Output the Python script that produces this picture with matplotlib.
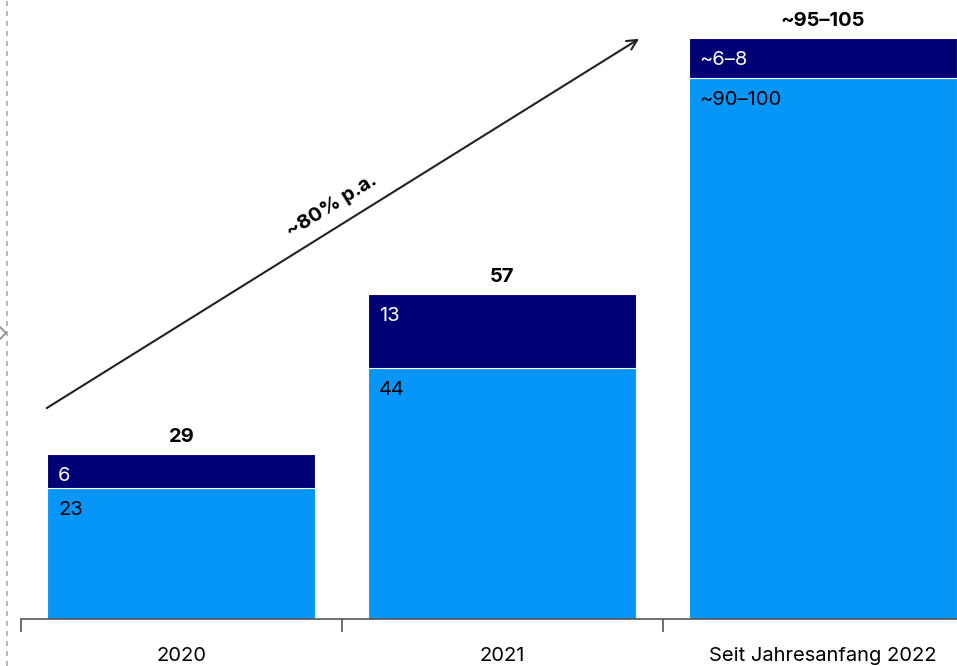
import numpy as np
from matplotlib import pyplot as plt
from matplotlib.lines import Line2D

plt.rcParams['font.family'] = ['Inter', 'DejaVu Sans']

# data
categories = ['2020', '2021', 'Seit Jahresanfang 2022']
base_vals = [23, 44, 95]
top_vals = [6, 13, 7]
base_labels = ['23', '44', '~90–100']
top_labels = ['6', '13', '~6–8']
total_labels = ['29', '57', '~95–105']
growth_label = '~80% p.a.'

dark = '#000075'
light = '#0596f7'
fs = 14.5

fig = plt.figure(figsize=(9.57, 6.66), dpi=100)
ax = fig.add_axes([21/957, 47/666, 936/957, 619/666])

x = np.arange(len(categories))
w = 0.835
base = np.array(base_vals)
top = np.array(top_vals)
ax.bar(x, base, w, color=light, edgecolor='white', linewidth=0.8)
ax.bar(x, top, w, bottom=base, color=dark, edgecolor='white', linewidth=0.8)

for i in range(len(x)):
    left = x[i] - w/2 + 0.033
    ax.text(left, base[i] - 3.9, base_labels[i], color='black', fontsize=fs,
            ha='left', va='center')
    ax.text(left, base[i] + top[i] - 3.9, top_labels[i], color='white', fontsize=fs,
            ha='left', va='center')
    ax.text(x[i], base[i] + top[i] + 3.0, total_labels[i], color='black', fontsize=fs,
            fontweight='bold', ha='center', va='center')

ax.set_xlim(-0.5, 2.418)
ax.set_ylim(0, 108.6)

# growth arrow
ax.annotate('', xy=(1.427, 101.8), xytext=(-0.42, 37.0),
            arrowprops=dict(arrowstyle='->', color='#222222', lw=1.5,
                            mutation_scale=18, shrinkA=0, shrinkB=0))
ax.text(0.47, 72.5, growth_label, rotation=32, fontsize=fs, fontweight='bold',
        ha='center', va='center', rotation_mode='anchor')

# axis styling
for s in ['top', 'right', 'left']:
    ax.spines[s].set_visible(False)
ax.spines['bottom'].set_color('#555555')
ax.spines['bottom'].set_linewidth(1.2)
ax.set_yticks([])
ax.set_xticks(x)
ax.set_xticklabels(categories, fontsize=fs)
ax.tick_params(axis='x', length=0, pad=20)
ax.set_xticks([-0.5, 0.5, 1.5], minor=True)
ax.tick_params(axis='x', which='minor', length=9, width=1.2, color='#555555')

# dashed guide line at left edge with small arrowhead
fig.add_artist(Line2D([7/957, 7/957], [0, 1], color='#aaaaaa', lw=1.2,
                      linestyle=(0, (3, 3))))
fig.add_artist(Line2D([0, 6/957, 0], [1 - 327/666, 1 - 333/666, 1 - 339/666],
                      color='#888888', lw=1.2))

plt.savefig('out.png', dpi=100)
